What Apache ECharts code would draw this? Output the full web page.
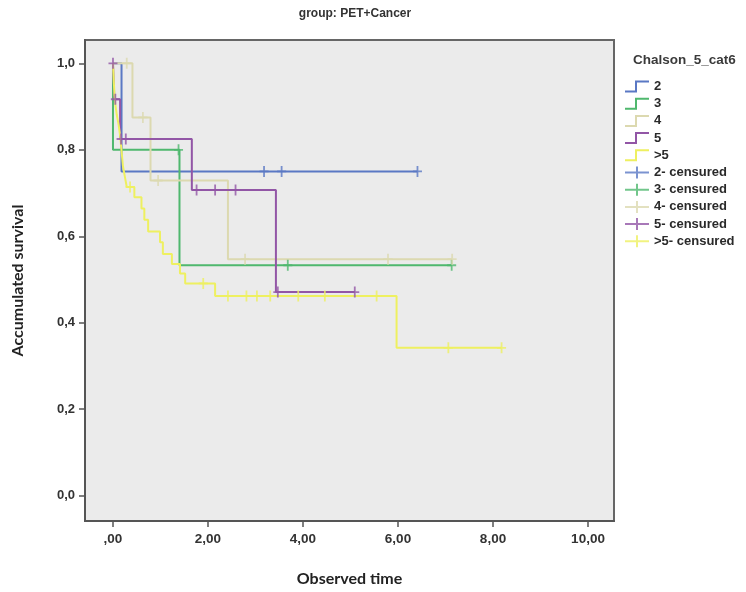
<!DOCTYPE html>
<html>
<head>
<meta charset="utf-8">
<script src="https://cdn.jsdelivr.net/npm/echarts@6/dist/echarts.min.js"></script>
<style>
  html, body { margin: 0; padding: 0; background: #fff; }
  #chart { width: 746px; height: 592px; }
</style>
</head>
<body>
<div id="chart"></div>
<script>
// groups of Chalson_5_cat6
const groups = ['2', '3', '4', '5', '>5'];
const groupColors = ['#5a78c4', '#4fb86e', '#dcd9b0', '#9256a6', '#eef060'];

// event times and survival after each event (KM steps), per group
const times2 = [0, 0.18];
const surv2 = [1.0, 0.75];
const cens2 = [3.18, 3.55, 6.41];

const times3 = [0, 0, 1.40];
const surv3 = [1.0, 0.80, 0.533];
const cens3 = [1.38, 3.68, 7.13];

const times4 = [0, 0.41, 0.79, 2.42];
const surv4 = [1.0, 0.875, 0.729, 0.547];
const cens4 = [0.29, 0.63, 0.95, 2.78, 5.79, 7.14];

const times5 = [0, 0.03, 0.15, 1.66, 3.43];
const surv5 = [1.0, 0.917, 0.825, 0.707, 0.471];
const cens5 = [0, 0.05, 0.17, 0.27, 1.76, 2.15, 2.58, 3.47, 5.09];

const times6 = [0, 0.01, 0.02, 0.03, 0.05, 0.08, 0.12, 0.15, 0.17, 0.19, 0.21, 0.25, 0.29,
  0.45, 0.60, 0.66, 0.74, 0.99, 1.05, 1.24, 1.41, 1.52, 2.15, 5.97];
const surv6 = [1.0, 0.976, 0.952, 0.929, 0.905, 0.881, 0.857, 0.833, 0.810, 0.786, 0.762, 0.738, 0.714,
  0.690, 0.664, 0.638, 0.611, 0.586, 0.559, 0.536, 0.514, 0.491, 0.462, 0.342];
const cens6 = [0.36, 1.90, 2.42, 2.81, 3.03, 3.31, 3.90, 4.46, 5.55, 7.06, 8.18];

const allTimes = [times2, times3, times4, times5, times6];
const allSurv = [surv2, surv3, surv4, surv5, surv6];
const allCens = [cens2, cens3, cens4, cens5, cens6];

// axis ticks
const xTicks = [0, 2, 4, 6, 8, 10];
const xTickLabels = [',00', '2,00', '4,00', '6,00', '8,00', '10,00'];
const yTicks = [0, 0.2, 0.4, 0.6, 0.8, 1.0];
const yTickLabels = ['0,0', '0,2', '0,4', '0,6', '0,8', '1,0'];

function survAt(times, surv, t) {
  let s = surv[0];
  for (let i = 0; i < times.length; i++) {
    if (times[i] <= t) s = surv[i];
  }
  return s;
}

const stepIcon = 'path://M0,10 H10 V0 H24 V2 H12 V12 H0 Z';
const crossIcon = 'path://M0,5 H24 V7 H0 Z M11,0 H13 V12 H11 Z';
const censSymbol = 'path://M-1,-6 H1 V6 H-1 Z M-5,-1 H5 V1 H-5 Z';

const series = [];
const legendData = [];
groups.forEach((g, i) => {
  const t = allTimes[i], s = allSurv[i], c = allCens[i];
  const lastT = Math.max(t[t.length - 1], c.length ? c[c.length - 1] : 0);
  const pts = t.map((v, k) => [v, s[k]]);
  pts.push([lastT, s[s.length - 1]]);
  series.push({
    name: g,
    type: 'line',
    step: 'end',
    data: pts,
    showSymbol: false,
    lineStyle: { color: groupColors[i], width: 2 },
    itemStyle: { color: groupColors[i] },
    z: 2 + i,
    silent: true
  });
  legendData.push({ name: g, icon: stepIcon });
});
groups.forEach((g, i) => {
  const t = allTimes[i], s = allSurv[i], c = allCens[i];
  series.push({
    name: g + '- censured',
    type: 'scatter',
    data: c.map(v => [v, survAt(t, s, v)]),
    symbol: censSymbol,
    symbolSize: [9, 11],
    itemStyle: { color: groupColors[i] },
    z: 10 + i,
    silent: true
  });
  legendData.push({ name: g + '- censured', icon: crossIcon });
});

const chart = echarts.init(document.getElementById('chart'), null, { renderer: 'canvas' });
chart.setOption({
  animation: false,
  backgroundColor: '#ffffff',
  title: [
    {
      text: 'group: PET+Cancer',
      left: 350, top: 3, textAlign: 'center',
      textStyle: { fontFamily: 'Liberation Sans', fontSize: 12, fontWeight: 'bold', color: '#333' }
    },
    {
      text: 'Chalson_5_cat6',
      left: 628, top: 48,
      textStyle: { fontFamily: 'Liberation Sans', fontSize: 13.5, fontWeight: 'bold', color: '#3a3a3a' }
    }
  ],
  legend: {
    data: legendData,
    orient: 'vertical',
    left: 625, top: 80, padding: 0,
    itemWidth: 24, itemHeight: 12, itemGap: 4.2,
    selectedMode: false,
    textStyle: { fontFamily: 'Liberation Sans', fontSize: 13, fontWeight: 'bold', color: '#2a2a2a' }
  },
  grid: {
    left: 85, right: 132, top: 40, bottom: 59,
    show: true, backgroundColor: '#ebebeb', borderColor: '#666', borderWidth: 2
  },
  xAxis: {
    type: 'value',
    min: -0.589, max: 10.547,
    name: 'Observed time',
    nameLocation: 'middle', nameGap: 50,
    nameTextStyle: { fontFamily: 'Lato', fontSize: 16, fontWeight: 'bold', color: '#222' },
    axisLine: { show: true, onZero: false, lineStyle: { color: '#555', width: 2 } },
    axisTick: { show: true, customValues: xTicks, length: 6, lineStyle: { color: '#555', width: 1.5 } },
    axisLabel: {
      customValues: xTicks, margin: 11,
      formatter: v => xTickLabels[xTicks.indexOf(Math.round(v))],
      fontFamily: 'Liberation Sans', fontSize: 13.5, fontWeight: 'bold', color: '#333'
    },
    splitLine: { show: false }
  },
  yAxis: {
    type: 'value',
    min: -0.0586, max: 1.054,
    name: 'Accumulated survival',
    nameLocation: 'middle', nameGap: 59, nameRotate: 90,
    nameTextStyle: { fontFamily: 'Lato', fontSize: 16, fontWeight: 'bold', color: '#222' },
    axisLine: { show: true, onZero: false, lineStyle: { color: '#555', width: 2 } },
    axisTick: { show: true, customValues: yTicks, length: 6, lineStyle: { color: '#555', width: 1.5 } },
    axisLabel: {
      customValues: yTicks, margin: 10,
      formatter: v => yTickLabels[yTicks.findIndex(t => Math.abs(t - v) < 1e-6)],
      fontFamily: 'Liberation Sans', fontSize: 13, fontWeight: 'bold', color: '#333'
    },
    splitLine: { show: false }
  },
  series: series
});
window.addEventListener('resize', () => chart.resize());
</script>
</body>
</html>
